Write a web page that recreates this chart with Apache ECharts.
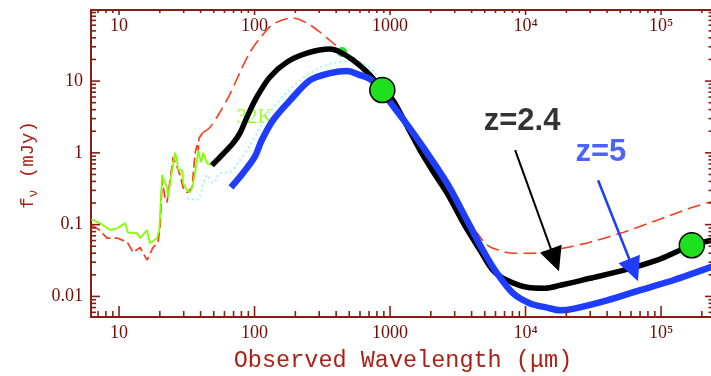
<!DOCTYPE html>
<html>
<head>
<meta charset="utf-8">
<script src="https://cdn.jsdelivr.net/npm/echarts@6/dist/echarts.min.js"></script>
<style>
  html, body { margin: 0; padding: 0; background: #ffffff; }
  #chart { width: 711px; height: 376px; }
</style>
</head>
<body>
<div id="chart"></div>
<script>
// ---- tick marks and labels ----
const xMajorTicks = [10, 100, 1000, 1e4, 1e5];
const xTickLabels = ['10', '100', '1000', '10\u2074', '10\u2075'];
const yMajorTicks = [0.01, 0.1, 1, 10];
const yTickLabels = ['0.01', '0.1', '1', '10'];

// ---- mid-IR spectrum (solid green) ----
const irsWave = [6.25, 7.2, 8.6, 9.7, 11.1, 11.6, 12.7, 13.6, 14.3, 16.1, 16.9, 19.1, 19.8, 20.1, 20.8, 21.1, 22.6, 23.0, 25.1, 25.9, 26.8, 27.3, 29.2, 29.7, 31.8, 33.4, 35.1, 37.7, 38.3, 40.3, 41.7, 44.6, 48.5];
const irsFlux = [0.119, 0.105, 0.084, 0.089, 0.105, 0.078, 0.076, 0.076, 0.065, 0.084, 0.055, 0.065, 0.084, 0.144, 0.49, 0.52, 0.33, 0.24, 0.72, 1.0, 0.79, 0.57, 0.57, 0.38, 0.30, 0.28, 0.355, 0.79, 1.09, 0.74, 1.0, 0.72, 0.67];

// ---- template, red dashed: mid-IR part and far-IR / radio part ----
const tmplMirWave = [6.25, 7.2, 8.15, 9.7, 11.5, 12.7, 14.3, 16.1, 17.8, 19.4, 20.1, 20.8, 21.8, 22.6, 25.1, 26.8, 28.2, 29.7, 31.8, 34.6, 36.4, 37.7, 38.3, 38.9, 41.7];
const tmplMirFlux = [0.098, 0.084, 0.065, 0.065, 0.057, 0.041, 0.048, 0.032, 0.048, 0.057, 0.094, 0.42, 0.24, 0.205, 0.87, 0.63, 0.49, 0.33, 0.28, 0.33, 1.0, 1.28, 1.0, 1.6, 1.94];
const tmplFirWave = [41.7, 47.0, 55.6, 65.9, 78.2, 92.7, 110, 137, 192, 244, 304, 379, 482, 571, 676, 801, 887, 1052, 1312, 1665, 2076, 2636, 3620, 4390, 5020, 5755, 8100, 11350, 18900, 29900, 52500, 93400, 164000, 238000];
const tmplFirFlux = [1.94, 2.28, 3.7, 6.6, 13.4, 25.3, 39.8, 62, 75.7, 64, 48, 33.9, 23, 17.8, 13.4, 9.4, 7.5, 5.4, 2.51, 1.09, 0.55, 0.274, 0.10, 0.076, 0.055, 0.047, 0.040, 0.040, 0.047, 0.057, 0.078, 0.115, 0.17, 0.21];

// ---- 32K dust component (cyan dotted) ----
const coldWave = [31.8, 37.7, 44.6, 49.4, 55.6, 65.9, 78, 92.7, 110, 130, 174, 244, 361, 533, 712, 887, 1185, 1665, 2338, 3287, 4240, 5280];
const coldFlux = [0.233, 0.22, 0.49, 0.38, 0.52, 0.54, 0.79, 1.28, 2.28, 3.7, 7.0, 12.1, 17.3, 19.0, 15.2, 8.8, 3.9, 1.5, 0.54, 0.159, 0.061, 0.0247];

// ---- model SED at z = 2.4 (black) ----
const z24Wave = [48.5, 55.6, 69.3, 78, 88, 104, 130, 174, 244, 361, 428, 533, 676, 801, 887, 1052, 1312, 1665, 2076, 2636, 3620, 4618, 5755, 7300, 10260, 13900, 18000, 29900, 52500, 93400, 138000, 172000, 238000];
const z24Flux = [0.67, 0.87, 1.36, 1.88, 3.15, 6.0, 11.4, 18.4, 24.5, 27.9, 25.3, 19.6, 13.4, 9.4, 7.5, 5.4, 2.51, 1.09, 0.55, 0.274, 0.092, 0.044, 0.023, 0.0168, 0.0134, 0.013, 0.0143, 0.0179, 0.023, 0.032, 0.044, 0.052, 0.061];

// ---- same SED redshifted to z = 5 (blue) ----
const z5Wave = [67, 82, 100, 113, 137, 183, 257, 361, 482, 601, 712, 844, 1000, 1312, 1754, 2636, 3700, 4850, 6160, 8100, 10800, 14400, 18000, 22400, 40000, 70000, 123000, 238000];
const z5Flux = [0.33, 0.52, 0.87, 1.5, 2.86, 5.4, 10.3, 12.9, 13.8, 12.1, 10.7, 8.0, 5.1, 2.6, 1.2, 0.377, 0.115, 0.044, 0.021, 0.011, 0.008, 0.0070, 0.0064, 0.0067, 0.0088, 0.0122, 0.0168, 0.026];

// ---- photometric detections ----
const detWave = [877, 168600];
const detFlux = [7.5, 0.0516];
const smallDetWave = [443];
const smallDetFlux = [25.4];

// ---- annotation arrows: tail and tip in data units ----
const arrowZ24 = { from: [8380, 1.09], to: [17650, 0.0224], color: '#000000', width: 2 };
const arrowZ5 = { from: [34300, 0.416], to: [67600, 0.01626], color: '#1f3dff', width: 2.5 };

// ---- axis ranges ----
const X_MIN = 6.21, X_MAX = 2.377e5;
const Y_MIN = 0.00517, Y_MAX = 97.7;

const pairs = (xs, ys) => xs.map((x, i) => [x, ys[i]]);

function minorTicks(fromExp, toExp) {
  const out = [];
  for (let e = fromExp; e <= toExp; e++) {
    for (let m = 2; m <= 9; m++) out.push(+(m * Math.pow(10, e)).toPrecision(3));
  }
  return out;
}
const inRange = (lo, hi) => v => v >= lo && v <= hi;
const xMinorTicks = minorTicks(0, 5).filter(inRange(X_MIN, X_MAX));
const yMinorTicks = minorTicks(-3, 1).filter(inRange(Y_MIN, Y_MAX));

const AXIS_COLOR = '#8a1c14';
const LABEL_COLOR = '#700c08';
const TITLE_COLOR = '#a82218';
const TICK_FONT = { color: LABEL_COLOR, fontFamily: 'Liberation Serif', fontSize: 18 };

function tickLabel(ticks, labels) {
  return function (v) {
    for (let i = 0; i < ticks.length; i++) {
      if (Math.abs(Math.log10(v) - Math.log10(ticks[i])) < 1e-6) return labels[i];
    }
    return '';
  };
}

function logAxis(dir, opts) {
  const a = {
    type: 'log',
    logBase: 10,
    position: opts.position,
    min: dir === 'x' ? X_MIN : Y_MIN,
    max: dir === 'x' ? X_MAX : Y_MAX,
    axisLine: { show: !!opts.line, onZero: false, lineStyle: { color: AXIS_COLOR, width: 2 } },
    axisTick: { show: false },
    axisLabel: { show: false },
    minorTick: { show: false },
    splitLine: { show: false },
    minorSplitLine: { show: false }
  };
  if (opts.labels) {
    a.axisLabel = Object.assign({
      show: true,
      customValues: opts.ticks,
      inside: !!opts.labelInside,
      margin: opts.margin,
      formatter: tickLabel(opts.ticks, opts.labels),
      hideOverlap: false,
      showMinLabel: true,
      showMaxLabel: true
    }, TICK_FONT);
  }
  return a;
}

// Tick marks: thin bars sitting on the frame edges, inward-pointing.
function tickMarks(side, values, len) {
  const w = 1.6;
  let data, size, offset;
  if (side === 'bottom') { data = values.map(v => [v, Y_MIN]); size = [w, len]; offset = [0, -len / 2]; }
  if (side === 'top') { data = values.map(v => [v, Y_MAX]); size = [w, len]; offset = [0, len / 2]; }
  if (side === 'left') { data = values.map(v => [X_MIN, v]); size = [len, w]; offset = [len / 2, 0]; }
  if (side === 'right') { data = values.map(v => [X_MAX, v]); size = [len, w]; offset = [-len / 2, 0]; }
  return {
    type: 'scatter', name: side + ' ticks', z: 10, silent: true, clip: false,
    symbol: 'rect', symbolSize: size, symbolOffset: offset,
    itemStyle: { color: AXIS_COLOR, opacity: 1 },
    emphasis: { disabled: true },
    data: data
  };
}

// Annotation arrow: straight shaft with a filled triangular head at the tip.
function arrowSeries(a) {
  return {
    type: 'custom', name: 'arrow', z: 7, silent: true, clip: false,
    data: [[a.from[0], a.from[1], a.to[0], a.to[1]]],
    renderItem: function (params, api) {
      const p0 = api.coord([api.value(0), api.value(1)]);
      const p1 = api.coord([api.value(2), api.value(3)]);
      const dx = p1[0] - p0[0], dy = p1[1] - p0[1];
      const len = Math.hypot(dx, dy);
      const ux = dx / len, uy = dy / len;
      const headLen = 24, headHalf = 11.5;
      const bx = p1[0] - ux * headLen, by = p1[1] - uy * headLen;
      return {
        type: 'group', children: [
          {
            type: 'line',
            shape: { x1: p0[0], y1: p0[1], x2: bx + ux * 2, y2: by + uy * 2 },
            style: { stroke: a.color, lineWidth: a.width }
          },
          {
            type: 'polygon',
            shape: { points: [[p1[0], p1[1]], [bx - uy * headHalf, by + ux * headHalf], [bx + uy * headHalf, by - ux * headHalf]] },
            style: { fill: a.color }
          }
        ]
      };
    }
  };
}

const chart = echarts.init(document.getElementById('chart'), null, { renderer: 'canvas' });

const option = {
  animation: false,
  backgroundColor: '#ffffff',
  grid: { left: 91, top: 10, right: -1, bottom: 59, containLabel: false, outerBoundsMode: 'none' },
  xAxis: [
    logAxis('x', { position: 'bottom', line: true, ticks: xMajorTicks, labels: xTickLabels, margin: 7 }),
    logAxis('x', { position: 'top', line: true, ticks: xMajorTicks, labels: xTickLabels, labelInside: true, margin: 7 })
  ],
  yAxis: [
    logAxis('y', { position: 'left', line: true, ticks: yMajorTicks, labels: yTickLabels, margin: 8 })
  ],
  graphic: [
    {
      type: 'text', x: 403, y: 361, z: 10, silent: true,
      style: {
        text: 'Observed Wavelength (\u03bcm)', fill: TITLE_COLOR,
        font: '23.5px "Liberation Mono"', align: 'center', verticalAlign: 'middle'
      }
    },
    {
      type: 'text', x: 28, y: 165, rotation: Math.PI / 2, z: 10, silent: true,
      style: {
        text: '{a|f}{b|\u03bd}{a| (mJy)}', fill: TITLE_COLOR, align: 'center', verticalAlign: 'middle',
        rich: {
          a: { fontFamily: 'Liberation Mono', fontSize: 19, fill: TITLE_COLOR },
          b: { fontFamily: 'Liberation Mono', fontSize: 13, fill: TITLE_COLOR, padding: [12, 0, 0, 0] }
        }
      }
    }
  ],
  series: [
    {
      name: 'cold dust', type: 'line', z: 2, symbol: 'none', smooth: 0.3,
      data: pairs(coldWave, coldFlux),
      lineStyle: { color: '#9ff6f6', width: 2, type: [2, 3] }
    },
    {
      name: 'template mid-IR', type: 'line', z: 3, symbol: 'none', smooth: false,
      data: pairs(tmplMirWave, tmplMirFlux),
      lineStyle: { color: '#ff3b1f', width: 1.7, type: [10, 4] }
    },
    {
      name: 'template', type: 'line', z: 3, symbol: 'none', smooth: 0.3,
      data: pairs(tmplFirWave, tmplFirFlux),
      lineStyle: { color: '#ff3b1f', width: 1.6, type: [13, 6] }
    },
    {
      name: 'IRS spectrum', type: 'line', z: 4, symbol: 'none', smooth: false,
      data: pairs(irsWave, irsFlux),
      lineStyle: { color: '#84ff00', width: 1.8 }
    },
    {
      name: 'small detection', type: 'scatter', z: 4, symbolSize: 10,
      data: pairs(smallDetWave, smallDetFlux),
      itemStyle: { color: '#22e022', opacity: 1 }
    },
    {
      name: '32K label', type: 'scatter', z: 4, symbolSize: 1, silent: true,
      itemStyle: { color: 'rgba(0,0,0,0)' },
      data: [{ value: [100, 3.15] }],
      label: {
        show: true, position: 'inside', formatter: '32K',
        color: '#84ff00', fontFamily: 'Liberation Serif', fontSize: 21
      }
    },
    {
      name: 'z=2.4', type: 'line', z: 5, symbol: 'none', smooth: 0.3,
      data: pairs(z24Wave, z24Flux),
      lineStyle: { color: '#000000', width: 5.5 }
    },
    {
      name: 'z=5', type: 'line', z: 6, symbol: 'none', smooth: 0.3,
      data: pairs(z5Wave, z5Flux),
      lineStyle: { color: '#1f3dff', width: 6.5 }
    },
    arrowSeries(arrowZ24),
    arrowSeries(arrowZ5),
    {
      name: 'detections', type: 'scatter', z: 8, symbolSize: 25,
      data: pairs(detWave, detFlux),
      itemStyle: { color: '#1ee01e', borderColor: '#000000', borderWidth: 1.5, opacity: 1 }
    },
    {
      name: 'redshift labels', type: 'scatter', z: 9, symbolSize: 1, silent: true,
      itemStyle: { color: 'rgba(0,0,0,0)' },
      label: {
        show: true, position: 'inside',
        fontFamily: 'Liberation Sans', fontWeight: 'bold', fontSize: 31
      },
      data: [
        { value: [9420, 2.77], label: { formatter: 'z=2.4', color: '#000000' } },
        { value: [36000, 1.0], label: { formatter: 'z=5', color: '#1f3dff' } }
      ]
    },
    tickMarks('bottom', xMajorTicks, 11),
    tickMarks('bottom', xMinorTicks, 6),
    tickMarks('top', xMajorTicks, 5),
    tickMarks('top', xMinorTicks, 3),
    tickMarks('left', yMajorTicks, 9),
    tickMarks('left', yMinorTicks, 5),
    tickMarks('right', yMajorTicks, 7),
    tickMarks('right', yMinorTicks, 3.5)
  ]
};

chart.setOption(option);
</script>
</body>
</html>
